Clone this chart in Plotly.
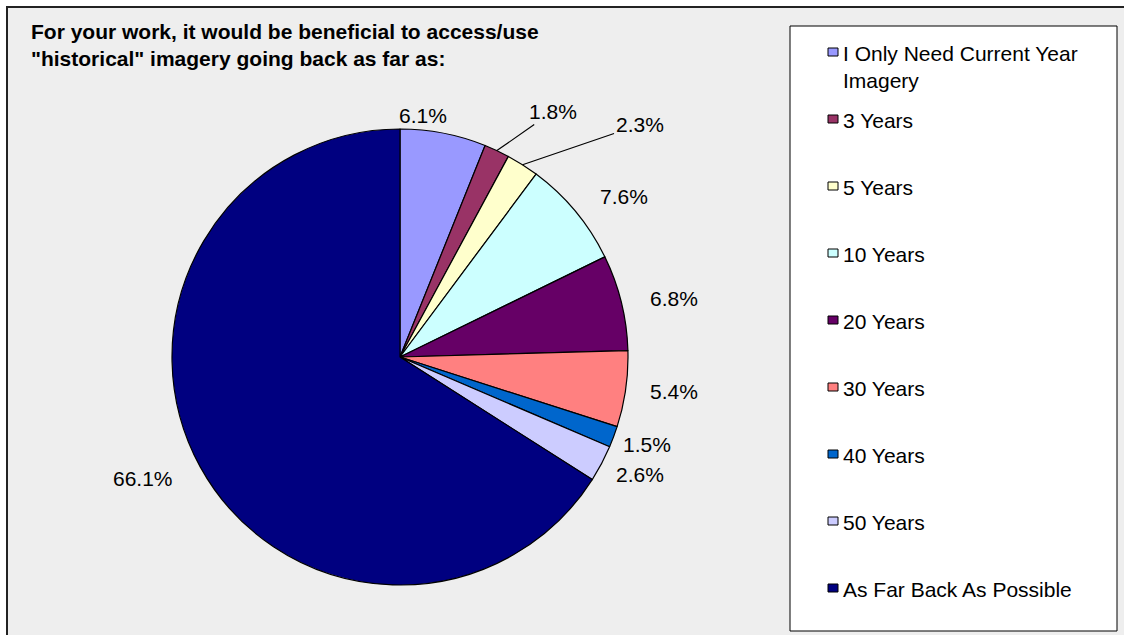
import math
import plotly.graph_objects as go

categories = ["I Only Need Current Year<br>Imagery", "3 Years", "5 Years", "10 Years",
              "20 Years", "30 Years", "40 Years", "50 Years", "As Far Back As Possible"]
values = [6.1, 1.8, 2.3, 7.6, 6.8, 5.4, 1.5, 2.6, 66.1]
colors = ["#9999FF", "#993366", "#FFFFCC", "#CCFFFF", "#660066",
          "#FF8080", "#0066CC", "#CCCCFF", "#000080"]

W, H = 1124, 635
cx, cy, r = 400, 357, 228          # pie centre / radius in px
FONT = "Liberation Sans, Arial, sans-serif"

def px(x):
    return x / W

def py(y):
    return 1 - y / H

fig = go.Figure()
fig.add_trace(go.Pie(
    labels=categories, values=values, sort=False, direction="clockwise", rotation=0,
    marker=dict(colors=colors, line=dict(color="black", width=1.2)),
    textinfo="none",
    domain=dict(x=[px(cx - r), px(cx + r)], y=[py(cy + r), py(cy - r)]),
    showlegend=False, hoverinfo="label+percent",
))

# ---- data labels, positioned from each slice's mid-angle ----
leader = {1: (56, -39), 2: (117, -40)}   # labels pulled out with a leader line
nudge = {0: (-30, -2), 3: (11, -5), 4: (6, 0), 6: (-12, 2), 7: (-4, 4), 8: (-9, 4)}
total = sum(values)
annotations = []
cum = 0.0
for i, v in enumerate(values):
    theta = math.radians(360 * (cum + v / 2) / total)
    cum += v
    s, c = math.sin(theta), math.cos(theta)
    txt = f"{v:.1f}%"
    font = dict(family=FONT, size=21, color="black")
    ex, ey = cx + r * s, cy - r * c
    if i in leader:
        ax, ay = leader[i]
        annotations.append(dict(x=px(ex), y=py(ey), xref="paper", yref="paper", text=txt,
                                showarrow=True, ax=ax, ay=ay, arrowhead=0, arrowwidth=1.2,
                                arrowcolor="black", standoff=0, font=font))
    else:
        w = 12.2 * len(txt)
        lx = cx + (r + 4) * s + s * (20 + w / 2)
        ly = cy - (r - 4) * c - c * (9 + 11)
        dx, dy = nudge.get(i, (0, 0))
        annotations.append(dict(x=px(lx + dx), y=py(ly + dy), xref="paper", yref="paper",
                                text=txt, showarrow=False, xanchor="center", yanchor="middle",
                                font=font))

# ---- frame and legend ----
shapes = [
    dict(type="rect", xref="paper", yref="paper", x0=px(7), x1=px(W + 10),
         y0=py(H + 10), y1=py(7), fillcolor="#EEEEEE",
         line=dict(color="#222222", width=2), layer="below"),
    dict(type="rect", xref="paper", yref="paper", x0=px(790), x1=px(1117),
         y0=py(631), y1=py(26), fillcolor="white",
         line=dict(color="black", width=1), layer="below"),
]
for i, (lab, col) in enumerate(zip(categories, colors)):
    yc = 52 if i == 0 else 119 + 67 * (i - 1)
    shapes.append(dict(type="rect", xref="paper", yref="paper", x0=px(828), x1=px(838),
                       y0=py(yc + 4), y1=py(yc - 4), fillcolor=col,
                       line=dict(color="black", width=1)))
    annotations.append(dict(x=px(841), y=py(yc - 12), xref="paper", yref="paper", text=lab,
                            showarrow=False, xanchor="left", yanchor="top", align="left",
                            font=dict(family=FONT, size=21, color="black")))

annotations.append(dict(
    text="For your work, it would be beneficial to access/use<br>\"historical\" imagery going back as far as:",
    xref="paper", yref="paper", x=px(29), y=py(45), xanchor="left", yanchor="middle",
    align="left", showarrow=False,
    font=dict(family=FONT, size=21, color="black", weight="bold"),
))

fig.update_layout(
    width=W, height=H, margin=dict(l=0, r=0, t=0, b=0),
    paper_bgcolor="white", plot_bgcolor="rgba(0,0,0,0)",
    font=dict(family=FONT, color="black"),
    showlegend=False,
    shapes=shapes, annotations=annotations,
)

fig.write_html("out.html", config={"displayModeBar": False},
               post_script="document.body.style.margin='0';")
